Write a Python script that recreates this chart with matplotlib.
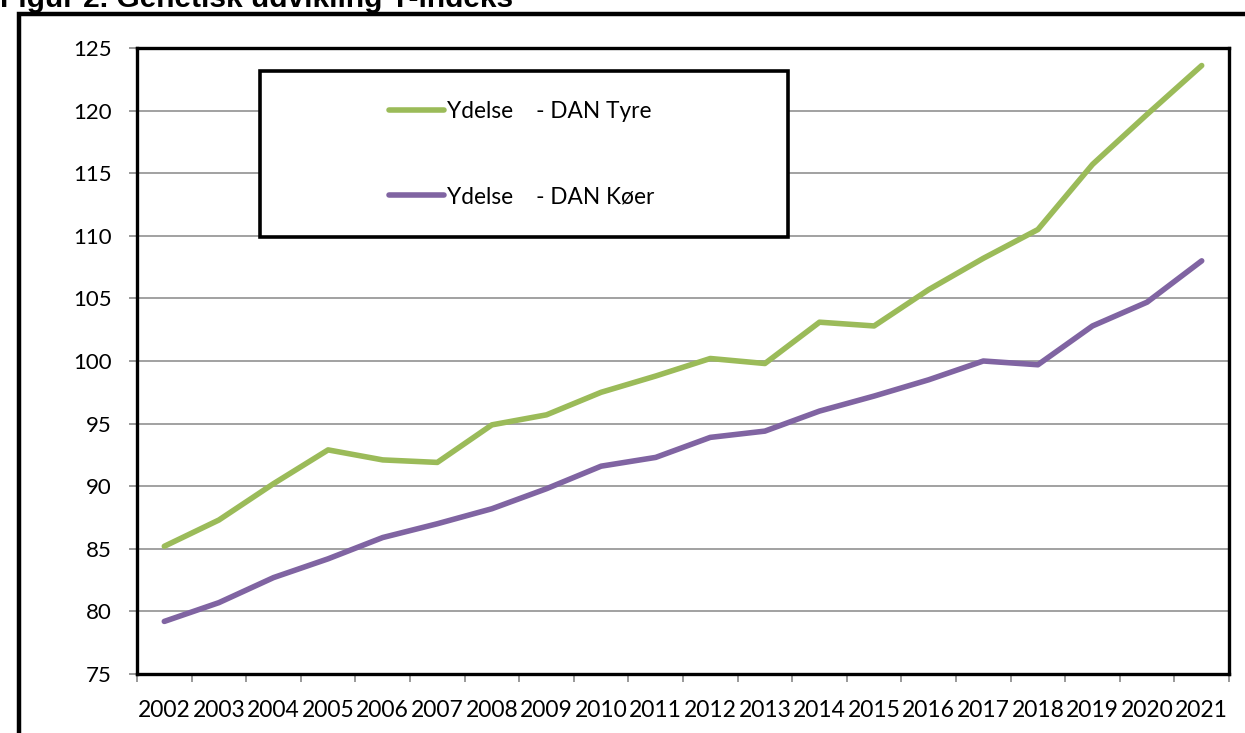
import matplotlib
matplotlib.use("Agg")
import matplotlib.pyplot as plt
from matplotlib.patches import Rectangle

# data
years = [str(y) for y in range(2002, 2022)]
tyre = [85.2, 87.3, 90.2, 92.9, 92.1, 91.9, 94.9, 95.7, 97.5, 98.8,
        100.2, 99.8, 103.1, 102.8, 105.7, 108.2, 110.5, 115.7, 119.7, 123.6]
koer = [79.2, 80.7, 82.7, 84.2, 85.9, 87.0, 88.2, 89.8, 91.6, 92.3,
        93.9, 94.4, 96.0, 97.2, 98.5, 100.0, 99.7, 102.8, 104.7, 108.0]
yticks = list(range(75, 130, 5))
labels = ["Ydelse    - DAN Tyre", "Ydelse    - DAN Køer"]

plt.rcParams["font.family"] = ["Lato", "DejaVu Sans"]

fig = plt.figure(figsize=(12.45, 7.33), dpi=100)
ax = fig.add_axes([137 / 1245, 1 - 674 / 733, (1229 - 137) / 1245, (674 - 48) / 733])

x = [i + 0.5 for i in range(len(years))]
l1, = ax.plot(x, tyre, color="#9BBB59", lw=4.0, solid_capstyle="round", solid_joinstyle="round")
l2, = ax.plot(x, koer, color="#8064A2", lw=4.0, solid_capstyle="round", solid_joinstyle="round")

ax.set_xlim(0, len(years))
ax.set_ylim(75, 125)
ax.set_yticks(yticks)
ax.set_yticklabels([str(v) for v in yticks])
ax.set_xticks(range(len(years) + 1))
ax.set_xticklabels([])
ax.set_xticks(x, minor=True)
ax.set_xticklabels(years, minor=True)
ax.tick_params(axis="x", which="major", length=6, width=1.2, color="#888888", direction="out")
ax.tick_params(axis="x", which="minor", length=0, pad=19, labelsize=16.5)
ax.tick_params(axis="y", length=6, width=1.2, color="#888888", labelsize=16, pad=12)

ax.grid(axis="y", color="#888888", lw=1.1)
ax.set_axisbelow(True)
for s in ax.spines.values():
    s.set_color("black")
    s.set_linewidth(2.4)

# legend: framed box with entries centred inside
box = Rectangle((260, 733 - 237), 528, 166, transform=None, fill=True,
                facecolor="white", edgecolor="black", lw=2.6, zorder=5, clip_on=False)
ax.add_patch(box)
leg = ax.legend([l1, l2], labels, frameon=False, loc="center",
                bbox_to_anchor=(522 / 1245, 1 - 154 / 733), bbox_transform=fig.transFigure,
                fontsize=16.3, labelspacing=2.85, handlelength=2.4, handletextpad=0.15)
leg.set_zorder(6)

# outer frame and cropped title
fig.patches.append(Rectangle((19, -20), 1300, 733 - 14 + 20, transform=None,
                             fill=False, edgecolor="black", lw=3.2))
fig.text(0.0, 1 - 7 / 733, "Figur 2. Genetisk udvikling Y-indeks", fontsize=21.5,
         fontweight="bold", family="Liberation Sans", ha="left", va="baseline")

fig.savefig("out.png", dpi=100)
